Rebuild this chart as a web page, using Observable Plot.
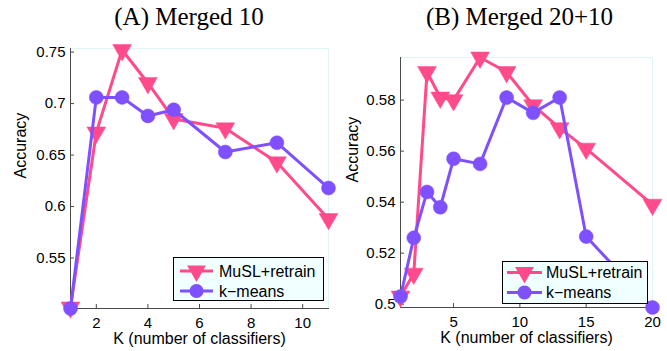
<!DOCTYPE html>
<html>
<head>
<meta charset="utf-8">
<script src="https://cdn.jsdelivr.net/npm/d3@7"></script>
<script src="https://cdn.jsdelivr.net/npm/@observablehq/plot@0.6"></script>
<style>
  body { margin: 0; background: white; }
  #wrap { position: relative; width: 667px; height: 351px; overflow: hidden; }
  .panel { position: absolute; top: 0; }
  #overlay { position: absolute; left: 0; top: 0; pointer-events: none; }
</style>
</head>
<body>
<div id="wrap">
  <div id="pA" class="panel" style="left:0"></div>
  <div id="pB" class="panel" style="left:333px"></div>
</div>
<script>
// ---- data ----
const titleA = "(A) Merged 10";
const titleB = "(B) Merged 20+10";
const seriesNames = ["MuSL+retrain", "k\u2212means"];
const xLabel = "K (number of classifiers)";
const yLabel = "Accuracy";

const kA = [1, 2, 3, 4, 5, 7, 9, 11];
const muslA = [0.502, 0.672, 0.752, 0.720, 0.685, 0.676, 0.643, 0.588];
const kmeansA = [0.501, 0.706, 0.706, 0.688, 0.694, 0.653, 0.662, 0.618];
const xTicksA = [2, 4, 6, 8, 10];
const yTicksA = [0.55, 0.6, 0.65, 0.7, 0.75];

const kB = [1, 2, 3, 4, 5, 7, 9, 11, 13, 15, 20];
const muslB = [0.503, 0.512, 0.591, 0.581, 0.580, 0.5967, 0.591, 0.578, 0.569, 0.561, 0.539];
const kmeansB = [0.503, 0.526, 0.544, 0.538, 0.557, 0.555, 0.581, 0.575, 0.581, 0.5265, 0.4987];
const xTicksB = [5, 10, 15, 20];
const yTicksB = [0.5, 0.52, 0.54, 0.56, 0.58];

const pink = "#ff4a8c";
const purple = "#7f50ff";

function panel(k, musl, kmeans, xTicks, yTicks, xDomain, yDomain, m) {
  const A = k.map((x, i) => ({x, y: musl[i]}));
  const B = k.map((x, i) => ({x, y: kmeans[i]}));
  return Plot.plot({
    width: m.w, height: 351,
    marginLeft: m.l, marginRight: m.r, marginTop: m.t, marginBottom: m.b,
    style: {fontFamily: "'Liberation Sans', Arial, sans-serif", fontSize: "15px", color: "black", background: "transparent", overflow: "visible"},
    x: {domain: xDomain},
    y: {domain: yDomain},
    marks: [
      Plot.frame({stroke: "#dff4f4"}),
      Plot.frame({anchor: "left", stroke: "#4a4a4a"}),
      Plot.frame({anchor: "bottom", stroke: "#4a4a4a"}),
      Plot.axisX({ticks: xTicks, tickSize: -4, tickFormat: () => "", label: null, stroke: "#4a4a4a"}),
      Plot.axisY({ticks: yTicks, tickSize: -4, tickFormat: () => "", label: null, stroke: "#4a4a4a"}),
      Plot.axisX({ticks: xTicks, tickSize: 0, tickPadding: 9, tickFormat: d => String(d), label: null, fontSize: 15, fill: "black"}),
      Plot.axisY({ticks: yTicks, tickSize: 0, tickPadding: 5, tickFormat: d => String(d), label: null, fontSize: 15, fill: "black"}),
      Plot.text([xLabel], {frameAnchor: "bottom", lineAnchor: "middle", dy: 30, fontSize: 16, fill: "black"}),
      Plot.text([yLabel], {frameAnchor: "left", lineAnchor: "middle", dx: m.ylab, rotate: -90, fontSize: 16, fill: "black"}),
      Plot.line(A, {x: "x", y: "y", stroke: pink, strokeWidth: 3, strokeLinejoin: "round"}),
      Plot.dot(A, {x: "x", y: "y", symbol: "triangle", r: 7, rotate: 180, fill: pink, stroke: pink, strokeWidth: 0.5}),
      Plot.line(B, {x: "x", y: "y", stroke: purple, strokeWidth: 3, strokeLinejoin: "round"}),
      Plot.dot(B, {x: "x", y: "y", symbol: "circle", r: 7, fill: purple, stroke: purple, strokeWidth: 0.5})
    ]
  });
}

document.getElementById("pA").appendChild(
  panel(kA, muslA, kmeansA, xTicksA, yTicksA, [1, 11], [0.501, 0.7535],
        {w: 333, l: 70, r: 5, t: 48, b: 43, ylab: -50}));
document.getElementById("pB").appendChild(
  panel(kB, muslB, kmeansB, xTicksB, yTicksB, [1, 20], [0.4987, 0.5967],
        {w: 334, l: 67, r: 15, t: 57, b: 44, ylab: -48}));

// ---- titles & legends overlay ----
const svg = d3.select("#wrap").append("svg")
  .attr("id", "overlay").attr("width", 667).attr("height", 351);

svg.append("text").attr("x", 189).attr("y", 25).attr("text-anchor", "middle")
  .attr("font-family", "'Liberation Serif', 'Times New Roman', serif").attr("font-size", 25)
  .text(titleA);
svg.append("text").attr("x", 519.5).attr("y", 25).attr("text-anchor", "middle")
  .attr("font-family", "'Liberation Serif', 'Times New Roman', serif").attr("font-size", 25)
  .text(titleB);

function legend(x, y, w, h, lx0, lx1, tx, rows) {
  const g = svg.append("g");
  g.append("rect").attr("x", x + 0.5).attr("y", y + 0.5).attr("width", w).attr("height", h)
    .attr("fill", "#f0ffff").attr("stroke", "black").attr("stroke-width", 1);
  const colors = [pink, purple];
  const syms = [d3.symbolTriangle, d3.symbolCircle];
  rows.forEach((ry, i) => {
    g.append("line").attr("x1", lx0).attr("x2", lx1).attr("y1", ry).attr("y2", ry)
      .attr("stroke", colors[i]).attr("stroke-width", 3);
    const cx = (lx0 + lx1) / 2;
    g.append("path").attr("d", d3.symbol(syms[i], Math.PI * 49)())
      .attr("transform", `translate(${cx},${ry}) rotate(${i === 0 ? 180 : 0})`)
      .attr("fill", colors[i]);
    g.append("text").attr("x", tx).attr("y", ry).attr("dy", "0.35em")
      .attr("font-family", "'Liberation Sans', Arial, sans-serif").attr("font-size", 16)
      .text(seriesNames[i]);
  });
}
legend(173, 257, 150, 43, 180, 213, 219, [271, 291]);
legend(502, 261, 145, 42, 507, 542, 546, [272.5, 292.5]);
</script>
</body>
</html>
